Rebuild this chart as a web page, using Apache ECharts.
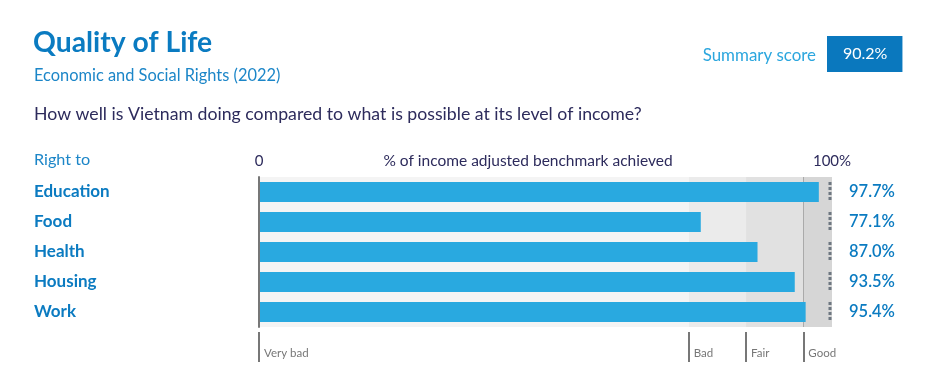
<!DOCTYPE html>
<html>
<head>
<meta charset="utf-8">
<script src="https://cdn.jsdelivr.net/npm/echarts@6/dist/echarts.min.js"></script>
<style>html,body{margin:0;padding:0;background:#fff;}#c{width:944px;height:391px;}</style>
</head>
<body>
<div id="c"></div>
<script>
const categories = ['Education', 'Food', 'Health', 'Housing', 'Work'];
const values = [97.7, 77.1, 87.0, 93.5, 95.4];
const benchmark = [100, 100, 100, 100, 100];
const bandEdges = [0, 75, 85, 95, 100];
const bandNames = ['Very bad', 'Bad', 'Fair', 'Good'];
const topTicks = [0, 100];
const summaryScore = '90.2%';

const FONT = 'Lato';
const chart = echarts.init(document.getElementById('c'), null, {renderer: 'canvas'});
const bandColors = ['#f4f4f4', '#ebebeb', '#e1e1e1', '#d6d6d6'];

const option = {
  animation: false,
  textStyle: {fontFamily: FONT},
  title: [
    {text: 'Quality of Life', left: 33, top: 29, padding: 0,
     textStyle: {fontFamily: FONT, fontSize: 28.3, fontWeight: 'bold', color: '#0a7bc1'}},
    {text: 'Economic and Social Rights (2022)', left: 34, top: 68, padding: 0,
     textStyle: {fontFamily: FONT, fontSize: 16.4, fontWeight: 'normal', color: '#1c86c8'}},
    {text: 'How well is Vietnam doing compared to what is possible at its level of income?', left: 34, top: 105, padding: 0,
     textStyle: {fontFamily: FONT, fontSize: 17.7, fontWeight: 'normal', color: '#2d2b5c'}},
    {text: 'Right to', left: 34, top: 152, padding: 0,
     textStyle: {fontFamily: FONT, fontSize: 16.2, fontWeight: 'normal', color: '#1c86c8'}},
    {text: 'Summary score', right: 128, top: 47, padding: 0,
     textStyle: {fontFamily: FONT, fontSize: 16.9, fontWeight: 'normal', color: '#2ba6de'}},
    {text: summaryScore, left: 827, top: 36, padding: [9, 15, 9, 16], backgroundColor: '#0a78be',
     textStyle: {fontFamily: FONT, fontSize: 16, fontWeight: 'normal', color: '#ffffff', lineHeight: 18}}
  ],
  grid: {left: 259, right: 112, top: 177, bottom: 64, containLabel: false},
  xAxis: [
    {type: 'value', position: 'top', min: 0, max: 100,
     name: '% of income adjusted benchmark achieved', nameLocation: 'middle', nameGap: 16, nameMoveOverlap: false,
     nameTextStyle: {fontFamily: FONT, fontSize: 15.5, color: '#2d2b5c', verticalAlign: 'middle', padding: [0, 35, 0, 0]},
     axisLine: {show: false}, axisTick: {show: false}, splitLine: {show: false},
     axisLabel: {customValues: topTicks, margin: 8, fontFamily: FONT, fontSize: 15, color: '#2d2b5c',
                 formatter: v => v === 100 ? '100%' : String(v)}},
    {type: 'value', position: 'bottom', min: 0, max: 100, offset: 5,
     axisLine: {show: false}, splitLine: {show: false},
     axisTick: {show: true, customValues: bandEdges.slice(0, 4), length: 30, lineStyle: {color: '#777', width: 2}},
     axisLabel: {customValues: bandEdges.slice(0, 4), margin: 15, align: 'left', padding: [0, 0, 0, 5],
                 fontFamily: FONT, fontSize: 11.5, color: '#777',
                 formatter: v => bandNames[bandEdges.indexOf(v)]}}
  ],
  yAxis: [
    {type: 'category', data: categories, inverse: true, z: 5,
     axisLine: {show: true, lineStyle: {color: '#777', width: 2}}, axisTick: {show: false},
     axisLabel: {margin: 225, align: 'left', padding: [4, 0, 0, 0], fontFamily: FONT, fontSize: 17, fontWeight: 'bold', color: '#0b7bc1'}},
    {type: 'category', data: categories, inverse: true, position: 'right',
     axisLine: {show: false}, axisTick: {show: false},
     axisLabel: {margin: 17, align: 'left', padding: [4, 0, 0, 0], fontFamily: FONT, fontSize: 16.5, fontWeight: 600, color: '#0b7bc1',
                 formatter: (v, i) => values[i].toFixed(1) + '%'}}
  ],
  series: [
    {type: 'line', data: [], xAxisIndex: 0, yAxisIndex: 0, z: 0, zlevel: 0, silent: true,
     markArea: {silent: true, z: 0, data: bandNames.map((n, i) => [
       {xAxis: bandEdges[i], itemStyle: {color: bandColors[i]}}, {xAxis: bandEdges[i + 1]}])},
     markLine: {silent: true, z: 0, symbol: 'none', label: {show: false},
       data: [{xAxis: bandEdges[3], lineStyle: {color: '#aaaaaa', width: 1, type: 'solid'}}]}},
    {type: 'bar', data: values, barWidth: 20, xAxisIndex: 0, yAxisIndex: 0,
     itemStyle: {color: '#29a9e0'}, z: 3},
    {type: 'custom', xAxisIndex: 0, yAxisIndex: 0, z: 4,
     data: benchmark.map((b, i) => [b, i]),
     renderItem: function (params, api) {
       const p = api.coord([api.value(0), api.value(1)]);
       const h = 20;
       return {type: 'line', shape: {x1: p[0] - 2, y1: p[1] - h / 2, x2: p[0] - 2, y2: p[1] + h / 2},
               style: {stroke: '#6d7680', lineWidth: 3, lineDash: [3, 2]}};
     }}
  ]
};
chart.setOption(option);
</script>
</body>
</html>
